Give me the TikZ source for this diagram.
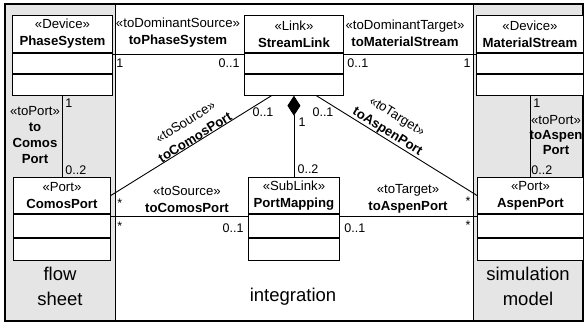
\documentclass[tikz,border=0pt]{standalone}
\usepackage{fontspec}
\setmainfont{Liberation Sans}
\usetikzlibrary{arrows.meta}
\begin{document}
\begin{tikzpicture}[x=1pt,y=-1pt,line width=0.9pt,
  lbl/.style={font=\fontsize{13.2}{17}\selectfont, inner sep=0pt, align=center},
  mult/.style={font=\fontsize{12.5}{14}\selectfont, inner sep=0pt},
  hdr/.style={draw, fill=white, align=center, inner sep=0pt, anchor=north west,
              font=\fontsize{13.2}{17}\selectfont},
  comp/.style={draw, fill=white, inner sep=0pt, anchor=north},
  big/.style={font=\fontsize{18.5}{25}\selectfont, align=center, inner sep=0pt},
  colfill/.style={fill=black!10}]
\useasboundingbox (0,0) rectangle (585,325);
% swim lanes
\fill[colfill] (5,4) rectangle (115,321);
\fill[colfill] (473,4) rectangle (583,321);
\draw (115,4) -- (115,321);
\draw (473,4) -- (473,321);
\draw[line width=1.2pt] (5,4) rectangle (583,321);
\coordinate (lx) at (62,0);
\coordinate (rx) at (530,0);
% classes
\node[hdr, minimum width=100, minimum height=37] (ps) at (12,15) {«Device»\\\textbf{PhaseSystem}};
\node[comp, minimum width=100, minimum height=20.5] (ps1) at (ps.south) {};
\node[comp, minimum width=100, minimum height=20.5] (ps2) at (ps1.south) {};
\node[hdr, minimum width=99, minimum height=37] (sl) at (244,15) {«Link»\\\textbf{StreamLink}};
\node[comp, minimum width=99, minimum height=20.5] (sl1) at (sl.south) {};
\node[comp, minimum width=99, minimum height=20.5] (sl2) at (sl1.south) {};
\node[hdr, minimum width=107, minimum height=37] (ms) at (476,15) {«Device»\\\textbf{MaterialStream}};
\node[comp, minimum width=107, minimum height=20.5] (ms1) at (ms.south) {};
\node[comp, minimum width=107, minimum height=20.5] (ms2) at (ms1.south) {};
\node[hdr, minimum width=97, minimum height=36] (cp) at (13,177) {«Port»\\\textbf{ComosPort}};
\node[comp, minimum width=97, minimum height=23] (cp1) at (cp.south) {};
\node[comp, minimum width=97, minimum height=22] (cp2) at (cp1.south) {};
\node[hdr, minimum width=91, minimum height=36] (pm) at (248,177) {«SubLink»\\\textbf{PortMapping}};
\node[comp, minimum width=91, minimum height=23] (pm1) at (pm.south) {};
\node[comp, minimum width=91, minimum height=22] (pm2) at (pm1.south) {};
\node[hdr, minimum width=106, minimum height=36] (ap) at (477,177) {«Port»\\\textbf{AspenPort}};
\node[comp, minimum width=106, minimum height=23] (ap1) at (ap.south) {};
\node[comp, minimum width=106, minimum height=22] (ap2) at (ap1.south) {};
% top associations
\draw ([yshift=-2pt]ps.south east) -- ([yshift=-2pt]sl.south west);
\draw ([yshift=-2pt]sl.south east) -- ([yshift=-2pt]ms.south west);
\node[lbl] (l1) at (178,33) {«toDominantSource»\\\textbf{toPhaseSystem}};
\node[lbl] (l2) at (405,33) {«toDominantTarget»\\\textbf{toMaterialStream}};
\node[mult, anchor=west] (m1) at (116,63) {1};
\node[mult, anchor=east] (m2) at (240,63) {0..1};
\node[mult, anchor=west] (m3) at (347,63) {0..1};
\node[mult, anchor=east] (m4) at (471,63) {1};
% vertical port associations
\draw (ps2.south -| lx) -- (cp.north -| lx);
\draw (ms2.south -| rx) -- (ap.north -| rx);
\node[mult, anchor=west] (m5) at (65,103) {1};
\node[lbl, font=\fontsize{13.2}{15.7}\selectfont] (l3) at (35,135) {«toPort»\\\textbf{to}\\\textbf{Comos}\\\textbf{Port}};
\node[mult, anchor=west] (m6) at (65,170) {0..2};
\node[mult, anchor=west] (m7) at (533,103) {1};
\node[lbl, font=\fontsize{13.2}{15.3}\selectfont] (l4) at (556,135) {«toPort»\\\textbf{toAspen}\\\textbf{Port}};
\node[mult, anchor=west] (m8) at (531,170) {0..2};
% bottom horizontal associations
\draw ([yshift=-3pt]cp.south east) -- ([yshift=-3pt]pm.south west);
\draw ([yshift=-3pt]pm.south east) -- ([yshift=-3pt]ap.south west);
\node[lbl] (l5) at (187,199) {«toSource»\\\textbf{toComosPort}};
\node[lbl] (l6) at (408,199) {«toTarget»\\\textbf{toAspenPort}};
\node[mult, anchor=west] (m9) at (117,203) {*};
\node[mult, anchor=west] (m10) at (117,226) {*};
\node[mult, anchor=east] (m11) at (244,228) {0..1};
\node[mult, anchor=west] (m12) at (344,228) {0..1};
\node[mult, anchor=east] (m13) at (471,201) {*};
\node[mult, anchor=east] (m14) at (471,225) {*};
% diagonals
\draw (cp.east) -- node[lbl, sloped, pos=0.54, anchor=south, font=\fontsize{13.2}{18}\selectfont] (l7) {«toSource»\\\textbf{toComosPort}} ([xshift=-22.5pt]sl2.south);
\draw ([xshift=22.5pt]sl2.south) -- node[lbl, sloped, pos=0.42, anchor=south, font=\fontsize{13.2}{18}\selectfont] (l8) {«toTarget»\\\textbf{toAspenPort}} (ap.west);
\node[mult] (m15) at (263,112) {0..1};
\node[mult] (m16) at (323,112) {0..1};
% composition
\draw[{Diamond[width=13pt,length=20pt]}-] (sl2.south) -- (pm.north);
\node[mult] (m17) at (302,122) {1};
\node[mult] (m18) at (308,169) {0..2};
% lane names
\node[big] (n1) at (60,286) {flow\\sheet};
\node[big] (n2) at (293,297) {integration};
\node[big] (n3) at (528,286) {simulation\\model};
\end{tikzpicture}
\end{document}
